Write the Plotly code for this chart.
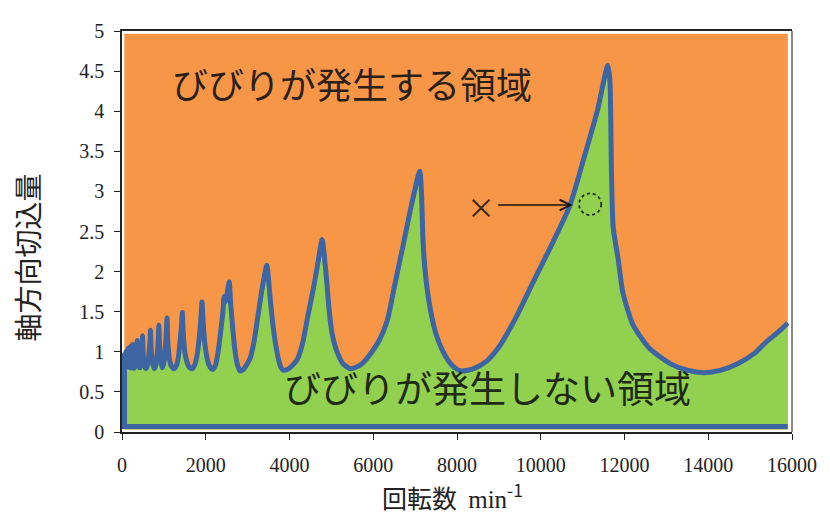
import plotly.graph_objects as go

# ---- data ----
speed = [60, 75, 90, 105, 120, 135, 150, 165, 180, 198, 216, 235, 255, 275, 300,
         330, 350, 365, 380, 405, 430,
         455, 475, 490, 505, 530, 570,
         610, 645, 668, 680, 695, 720, 770,
         810, 845, 868, 880, 895, 925, 960,
         1000, 1035, 1060, 1075, 1092, 1130, 1180, 1240,
         1300, 1350, 1395, 1425, 1440, 1460, 1500, 1560, 1620, 1680,
         1740, 1800, 1850, 1885, 1910, 1935, 1975, 2040, 2100, 2160,
         2230, 2290, 2350, 2410, 2440, 2470, 2520, 2560, 2595, 2630, 2690, 2750, 2820,
         2900, 2980, 3060, 3150, 3250, 3370, 3460, 3500, 3540, 3600, 3660, 3740, 3800, 3850,
         3950, 4050, 4180, 4300, 4440, 4560, 4660, 4780, 4830, 4890, 4950, 5020, 5150, 5280, 5450,
         5600, 5750, 5900, 6150, 6330, 6520, 6710, 6900, 7110, 7150, 7190, 7250, 7360, 7500, 7670, 7850, 8000, 8120,
         8400, 8700, 9000, 9400, 9800, 10200, 10700, 11050, 11350, 11600, 11650, 11690, 11730, 11850, 11960,
         12200, 12600, 13100, 13500, 13900, 14300, 14700, 15100, 15400, 15700, 15900]
depth = [0.98, 0.82, 1.0, 0.81, 1.02, 0.81, 1.04, 0.81, 1.05, 0.8, 1.07, 0.8, 1.09, 0.8, 0.8,
         0.9, 1.0, 1.14, 0.95, 0.82, 0.8,
         0.86, 1.0, 1.2, 0.98, 0.84, 0.79,
         0.84, 0.98, 1.12, 1.27, 1.05, 0.88, 0.79,
         0.84, 1.0, 1.18, 1.33, 1.1, 0.9, 0.8,
         0.86, 1.05, 1.25, 1.42, 1.15, 0.92, 0.82, 0.79,
         0.83, 0.95, 1.18, 1.35, 1.49, 1.25, 1.0, 0.86, 0.8, 0.79,
         0.84, 0.98, 1.2, 1.42, 1.62, 1.4, 1.12, 0.9, 0.81, 0.78,
         0.83, 0.98, 1.22, 1.5, 1.69, 1.62, 1.76, 1.87, 1.6, 1.38, 1.05, 0.85, 0.76,
         0.78, 0.84, 0.92, 1.12, 1.46, 1.86, 2.08, 1.9, 1.66, 1.35, 1.12, 0.9, 0.8, 0.77,
         0.78, 0.82, 0.9, 1.08, 1.45, 1.76, 2.05, 2.4, 2.2, 1.87, 1.5, 1.22, 0.98, 0.85, 0.79,
         0.81, 0.86, 0.95, 1.15, 1.38, 1.85, 2.32, 2.8, 3.25, 3.0, 2.36, 1.95, 1.54, 1.22, 1.0, 0.85, 0.78, 0.76,
         0.79, 0.88, 1.06, 1.42, 1.85, 2.27, 2.83, 3.45, 4.0, 4.57, 4.4, 3.2, 2.55, 2.15, 1.74,
         1.34, 1.04, 0.85, 0.77, 0.74, 0.77, 0.85, 0.98, 1.13, 1.26, 1.36]

base_depth = 0.07      # bottom edge line of the stable region
fill_floor = 0.03

x_ticks = [0, 2000, 4000, 6000, 8000, 10000, 12000, 14000, 16000]
x_tick_text = ["0", "2000", "4000", "6000", "8000", "10000", "12000", "14000", "16000"]
y_ticks = [0, 0.5, 1, 1.5, 2, 2.5, 3, 3.5, 4, 4.5, 5]
y_tick_text = ["0", "0.5", "1", "1.5", "2", "2.5", "3", "3.5", "4", "4.5", "5"]

label_unstable = "びびりが発生する領域"
label_stable = "びびりが発生しない領域"
label_unstable_pos = [5490, 4.35]
label_stable_pos = [8740, 0.56]
cross_pos = [8580, 2.80]
arrow_from = [8950, 2.83]
arrow_to = [10760, 2.83]
circle_center = [11180, 2.84]
circle_r = [265, 0.135]

ORANGE = "#F79646"
GREEN = "#92D050"
BLUE = "#3D65A3"

fig = go.Figure()

# floor of the stable region (fill reference)
fig.add_trace(go.Scatter(
    x=[speed[0], speed[-1]], y=[fill_floor, fill_floor], mode="lines",
    line=dict(width=0, color=GREEN), hoverinfo="skip", showlegend=False))

# stability limit curve, green filled below
fig.add_trace(go.Scatter(
    x=speed, y=depth, mode="lines", fill="tonexty", fillcolor=GREEN,
    line=dict(color=BLUE, width=5, shape="spline", smoothing=0.6),
    showlegend=False))

# bottom and left edges of the stable region
fig.add_trace(go.Scatter(
    x=[speed[-1], speed[0], speed[0]], y=[base_depth, base_depth, depth[0]],
    mode="lines", line=dict(color=BLUE, width=5), hoverinfo="skip", showlegend=False))

fig.add_shape(type="rect", xref="x", yref="y", x0=55, x1=15900, y0=fill_floor, y1=4.965,
              fillcolor=ORANGE, line=dict(width=0), layer="below")
fig.add_shape(type="line", xref="paper", yref="paper", x0=1.0, x1=1.0, y0=0, y1=1,
              line=dict(color="#8a8a8a", width=2))
fig.add_shape(type="circle", xref="x", yref="y",
              x0=circle_center[0] - circle_r[0], x1=circle_center[0] + circle_r[0],
              y0=circle_center[1] - circle_r[1], y1=circle_center[1] + circle_r[1],
              line=dict(color="#1c2e14", width=1.8, dash="dot"))

jp = "Noto Sans CJK JP"
fig.add_annotation(x=label_unstable_pos[0], y=label_unstable_pos[1], text=label_unstable,
                   showarrow=False, font=dict(family=jp, size=36, color="#2a2018"))
fig.add_annotation(x=label_stable_pos[0], y=label_stable_pos[1], text=label_stable,
                   showarrow=False, font=dict(family=jp, size=37, color="#1e2a14"))
fig.add_annotation(x=cross_pos[0], y=cross_pos[1], text="×", showarrow=False,
                   font=dict(family=jp, size=28, color="#3a2414"))
fig.add_annotation(x=arrow_to[0], y=arrow_to[1], ax=arrow_from[0], ay=arrow_from[1],
                   xref="x", yref="y", axref="x", ayref="y", text="",
                   showarrow=True, arrowhead=5, arrowsize=1.3, arrowwidth=1.6,
                   arrowcolor="#1a1410")

# axis titles
fig.add_annotation(xref="paper", yref="paper", x=-0.142, y=0.435, text="軸方向切込量",
                   textangle=-90, showarrow=False, xanchor="center", yanchor="middle",
                   font=dict(family=jp, size=28, color="#222"))
fig.add_annotation(xref="paper", yref="paper", x=0.494, y=-0.16,
                   xanchor="center", yanchor="middle",
                   text='回転数\u00a0\u00a0<span style="font-family:Liberation Serif">min</span><sup>-1</sup>',
                   showarrow=False, font=dict(family=jp, size=25, color="#222"))

tickfont = dict(family="Liberation Serif", size=20, color="#222")
fig.update_xaxes(range=[0, 16000], tickvals=x_ticks, ticktext=x_tick_text,
                 ticks="outside", ticklen=6,
                 tickcolor="#222", showline=True, linecolor="#222", linewidth=1.5,
                 mirror=True, showgrid=False, zeroline=False, tickfont=tickfont,
                 ticklabelstandoff=8)
fig.update_yaxes(range=[0, 5], tickvals=y_ticks, ticktext=y_tick_text,
                 ticks="outside", ticklen=6,
                 tickcolor="#222", showline=True, linecolor="#222", linewidth=1.5,
                 showgrid=False, zeroline=False, tickfont=tickfont,
                 ticklabelstandoff=6)

fig.update_layout(width=830, height=515, margin=dict(l=114, r=46, t=17, b=91),
                  plot_bgcolor="white", paper_bgcolor="white", showlegend=False)

fig.write_html("out.html")
